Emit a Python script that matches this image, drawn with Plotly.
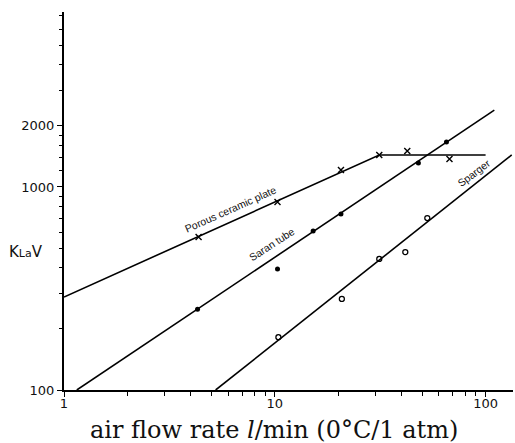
import plotly.graph_objects as go

porous_x = [4.35, 10.3, 20.6, 31.3, 42.5, 67.4]
porous_y = [567, 844, 1213, 1438, 1504, 1374]
saran_x = [4.3, 10.3, 15.2, 20.6, 48, 65.2]
saran_y = [250, 395, 607, 736, 1313, 1666]
sparger_x = [10.4, 20.8, 31.3, 41.6, 52.9]
sparger_y = [182, 281, 442, 478, 703]

# Fitted lines drawn in the original
porous_line_x = [1, 31.3, 100]
porous_line_y = [287, 1438, 1438]
saran_line_x = [1.15, 110]
saran_line_y = [100, 2390]
sparger_line_x = [5.24, 133]
sparger_line_y = [100, 1438]

x_ticks = [1, 10, 100]
y_ticks = [100, 1000, 2000]
x_minor = [2, 3, 4, 5, 6, 7, 8, 9, 20, 30, 40, 50, 60, 70, 80, 90]
y_minor = [200, 300, 400, 500, 600, 700, 800, 900, 1200, 1400, 1600, 1800,
           3000, 4000, 5000, 6000, 7000]

fig = go.Figure()
lw = 1.6
for lx, ly in [(porous_line_x, porous_line_y), (saran_line_x, saran_line_y),
               (sparger_line_x, sparger_line_y)]:
    fig.add_trace(go.Scatter(x=lx, y=ly, mode="lines",
                             line=dict(color="black", width=lw),
                             showlegend=False, hoverinfo="skip"))

fig.add_trace(go.Scatter(x=porous_x, y=porous_y, mode="markers",
                         marker=dict(symbol="x-thin", size=6, color="black",
                                     line=dict(color="black", width=1.4)),
                         showlegend=False))
fig.add_trace(go.Scatter(x=saran_x, y=saran_y, mode="markers",
                         marker=dict(symbol="circle", size=5, color="black"),
                         showlegend=False))
fig.add_trace(go.Scatter(x=sparger_x, y=sparger_y, mode="markers",
                         marker=dict(symbol="circle-open", size=5, color="black",
                                     line=dict(width=1.3)),
                         showlegend=False))

lab_font = dict(family="Liberation Sans, Arial, sans-serif", size=10.5, color="#111")
fig.add_annotation(x=0.790, y=2.892, xref="x", yref="y", text="Porous ceramic plate",
                   showarrow=False, textangle=-24, font=lab_font)
fig.add_annotation(x=0.986, y=2.719, xref="x", yref="y", text="Saran tube",
                   showarrow=False, textangle=-33, font=lab_font)
fig.add_annotation(x=1.943, y=3.069, xref="x", yref="y", text="Sparger",
                   showarrow=False, textangle=-37, font=lab_font)

fig.add_annotation(x=-0.0846, y=0.365, xref="paper", yref="paper",
                   text="K<span style='font-size:11px'>La</span>V",
                   showarrow=False, xanchor="center", yanchor="middle",
                   font=dict(family="DejaVu Sans, sans-serif", size=15, color="#111"))
fig.add_annotation(x=0.608 - 0.1405, y=-0.105, xref="paper", yref="paper",
                   text="air flow rate <i>l</i>/min (0°C/1 atm)",
                   showarrow=False, xanchor="center", yanchor="middle",
                   font=dict(family="DejaVu Serif, serif", size=24, color="#111"))

tick_font = dict(family="DejaVu Sans, sans-serif", size=13, color="#111")
fig.update_xaxes(type="log", range=[0, 2.13], showline=True, linewidth=2,
                 linecolor="black", showgrid=False, zeroline=False,
                 tickmode="array", tickvals=x_ticks, ticktext=[str(v) for v in x_ticks],
                 ticks="outside", ticklen=5, tickwidth=1.3, tickcolor="black",
                 tickfont=tick_font, ticklabelstandoff=-5,
                 minor=dict(tickmode="array", tickvals=x_minor, ticks="outside",
                            ticklen=4, tickwidth=1, tickcolor="black", showgrid=False))
fig.update_yaxes(type="log", range=[2, 3.862], showline=True, linewidth=2,
                 linecolor="black", showgrid=False, zeroline=False,
                 tickmode="array", tickvals=y_ticks, ticktext=[str(v) for v in y_ticks],
                 ticks="outside", ticklen=5, tickwidth=1.3, tickcolor="black",
                 tickfont=tick_font,
                 minor=dict(tickmode="array", tickvals=y_minor, ticks="outside",
                            ticklen=3, tickwidth=1, tickcolor="black", showgrid=False))

fig.update_layout(width=515, height=443, margin=dict(l=64, r=2, t=12, b=53),
                  paper_bgcolor="white", plot_bgcolor="white", showlegend=False)

fig.write_html("out.html")
